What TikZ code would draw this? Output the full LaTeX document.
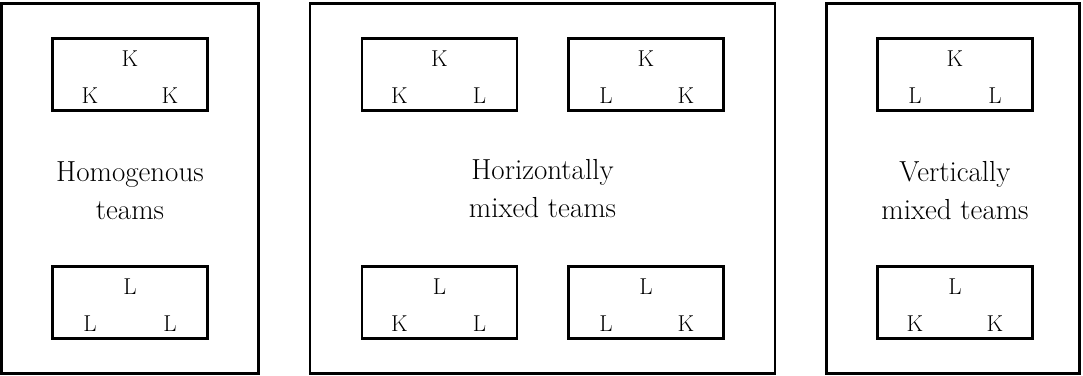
\documentclass[tikz,border=0pt]{standalone}
\usepackage{fontspec}
\begin{document}
\begin{tikzpicture}[x=1pt,y=-1pt,
  panel/.style={draw,line width=2.2pt,rectangle,inner sep=0pt},
  teambox/.style={draw,line width=2.2pt,rectangle,inner sep=0pt,minimum width=155pt,minimum height=72pt},
  letter/.style={inner sep=0pt,font=\fontsize{23}{23}\selectfont},
  caption/.style={inner sep=0pt,align=center,font=\fontsize{29}{38}\selectfont}]
\useasboundingbox (0,0) rectangle (1083,375);
% panels
\node[panel,minimum width=257pt,minimum height=370pt] (p1) at (130,188.5) {};
\node[panel,minimum width=465pt,minimum height=370pt] (p2) at (542.5,188.5) {};
\node[panel,minimum width=253pt,minimum height=370pt] (p3) at (953,188.5) {};
% captions
\node[caption] (c1) at (130,191) {Homogenous\\teams};
\node[caption] (c2) at (542.5,189) {Horizontally\\mixed teams};
\node[caption] (c3) at (955,191) {Vertically\\mixed teams};
% team boxes
\newcommand{\team}[6]{%
  \node[teambox] (#1) at (#2,#3) {};
  \node[letter] (#1t) at ([yshift=16pt]#1.center) {#4};
  \node[letter] (#1l) at ([xshift=-40pt,yshift=-21pt]#1.center) {#5};
  \node[letter] (#1r) at ([xshift=40pt,yshift=-21pt]#1.center) {#6};}
\team{a1}{130}{74.5}{K}{K}{K}
\team{a2}{130}{302.5}{L}{L}{L}
\team{b1}{439.5}{74.5}{K}{K}{L}
\team{b2}{646}{74.5}{K}{L}{K}
\team{b3}{439.5}{302.5}{L}{K}{L}
\team{b4}{646}{302.5}{L}{L}{K}
\team{d1}{955}{74.5}{K}{L}{L}
\team{d2}{955}{302.5}{L}{K}{K}
\end{tikzpicture}
\end{document}
